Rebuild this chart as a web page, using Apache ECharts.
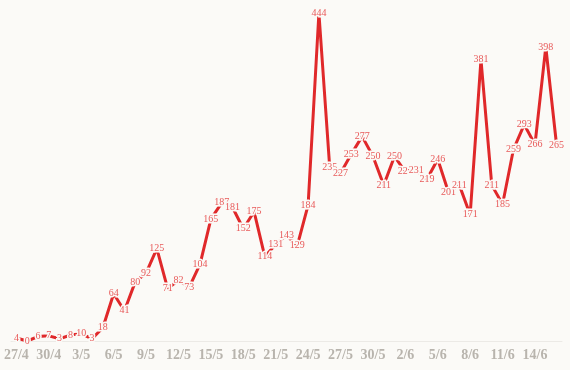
<!DOCTYPE html>
<html><head><meta charset="utf-8">
<script src="https://cdn.jsdelivr.net/npm/echarts@6/dist/echarts.min.js"></script>
<style>html,body{margin:0;padding:0;background:#fbfaf7;}#c{width:570px;height:370px;}</style>
</head><body><div id="c"></div>
<script>
const categories = ["27/4","28/4","29/4","30/4","1/5","2/5","3/5","4/5","5/5","6/5","7/5","8/5","9/5","10/5","11/5","12/5","13/5","14/5","15/5","16/5","17/5","18/5","19/5","20/5","21/5","22/5","23/5","24/5","25/5","26/5","27/5","28/5","29/5","30/5","31/5","1/6","2/6","3/6","4/6","5/6","6/6","7/6","8/6","9/6","10/6","11/6","12/6","13/6","14/6","15/6","16/6"];
const values = [4,0,6,7,3,8,10,3,18,64,41,80,92,125,71,82,73,104,165,187,181,152,175,114,131,143,129,184,444,235,227,253,277,250,211,250,229,231,219,246,201,211,171,381,211,185,259,293,266,398,265];
const chart = echarts.init(document.getElementById('c'));
chart.setOption({
  backgroundColor: '#fbfaf7',
  animation: false,
  grid: {left: 11, right: 8, top: 13, bottom: 29, containLabel: false},
  xAxis: {
    type: 'category', data: categories, boundaryGap: true,
    axisLine: {lineStyle: {color: '#eceae6'}},
    axisTick: {alignWithLabel: true, interval: 0, length: 5, lineStyle: {color: '#eceae6'}},
    axisLabel: {interval: 2, color: '#b8b4ad', fontFamily: 'Liberation Serif', fontWeight: 'bold', fontSize: 14, margin: 7}
  },
  yAxis: {type: 'value', min: 0, max: 444, show: false, splitLine: {show: false}},
  series: [{
    type: 'line', data: values,
    symbol: 'circle', symbolSize: 1,
    lineStyle: {color: '#e0282a', width: 3},
    itemStyle: {color: '#e0282a'},
    label: {show: true, position: 'inside', color: '#e85a5a', fontFamily: 'Liberation Serif', fontSize: 10,
            textBorderColor: '#fbfaf7', textBorderWidth: 3}
  }]
});
</script></body></html>
